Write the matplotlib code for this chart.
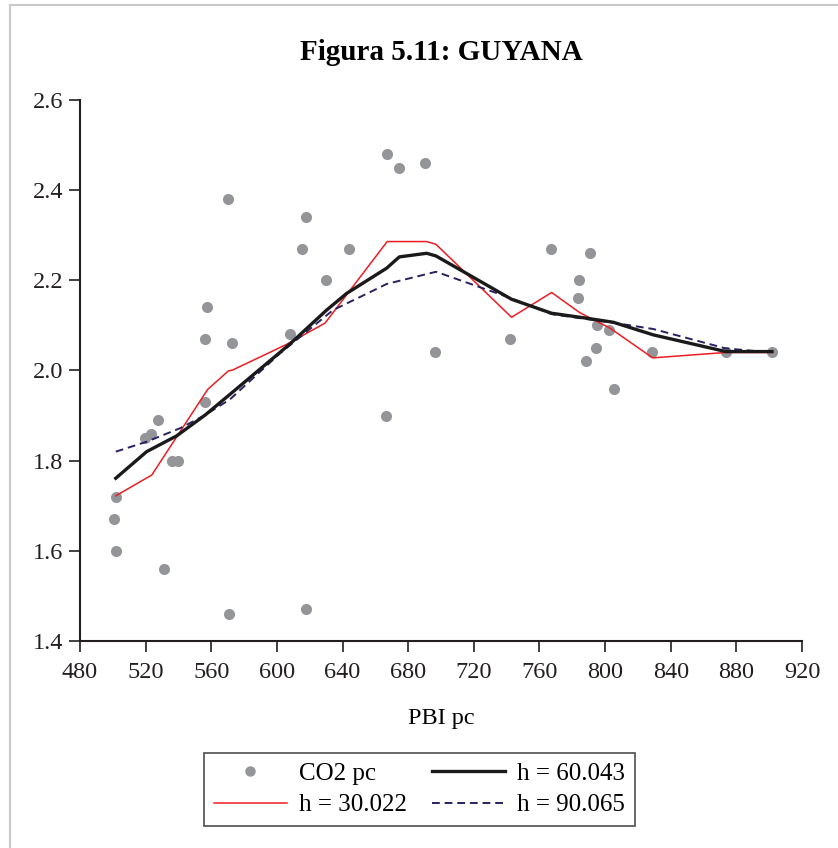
import numpy as np
import matplotlib.pyplot as plt
from matplotlib.lines import Line2D

plt.rcParams['font.family'] = ['Liberation Serif', 'DejaVu Serif']

# puntos observados
pbi = [500.7, 502.0, 502.0, 519.6, 523.0, 527.5, 531.0, 536.0, 540.0, 556.0,
       557.4, 556.0, 570.0, 571.0, 572.6, 608.0, 615.0, 618.0, 617.7, 629.7,
       643.9, 666.3, 667.3, 674.2, 690.4, 696.3, 742.2, 766.8, 783.5, 784.3,
       788.3, 790.6, 794.6, 795.0, 802.4, 805.2, 828.8, 873.5, 901.7]
co2 = [1.67, 1.72, 1.60, 1.85, 1.86, 1.89, 1.56, 1.80, 1.80, 2.07,
       2.14, 1.93, 2.38, 1.46, 2.06, 2.08, 2.27, 2.34, 1.47, 2.20,
       2.27, 1.90, 2.48, 2.45, 2.46, 2.04, 2.07, 2.27, 2.16, 2.20,
       2.02, 2.26, 2.05, 2.10, 2.09, 1.96, 2.04, 2.04, 2.04]

# h = 30.022
x_h30 = [501.8, 523.7, 557.8, 570.4, 573.0, 605.4, 629.3, 667.2, 691.3, 696.9,
         743.0, 767.4, 784.7, 803.0, 829.0, 873.5, 901.7]
y_h30 = [1.722, 1.768, 1.958, 1.999, 2.001, 2.057, 2.105, 2.286, 2.286, 2.280,
         2.118, 2.173, 2.128, 2.094, 2.028, 2.040, 2.040]

# h = 60.043
x_h60 = [501.8, 520.6, 538.9, 556.2, 573.0, 608.0, 630.3, 642.5, 666.9, 674.6,
         691.3, 697.0, 743.0, 767.4, 788.7, 805.0, 829.4, 873.5, 901.7]
y_h60 = [1.761, 1.820, 1.855, 1.901, 1.952, 2.059, 2.134, 2.171, 2.227, 2.252,
         2.260, 2.254, 2.158, 2.127, 2.116, 2.107, 2.079, 2.042, 2.042]

# h = 90.065
x_h90 = [501.8, 520.6, 541.0, 556.2, 571.4, 601.9, 634.2, 660.8, 666.9, 697.0,
         743.0, 767.4, 788.7, 805.0, 829.4, 873.5, 901.7]
y_h90 = [1.820, 1.842, 1.872, 1.901, 1.936, 2.038, 2.134, 2.181, 2.192, 2.219,
         2.160, 2.125, 2.114, 2.106, 2.092, 2.049, 2.040]

fig = plt.figure(figsize=(8.38, 8.48), dpi=100)
ax = fig.add_axes([80/838, 1-641/848, 722/838, 541/848])

ax.scatter(pbi, co2, s=64, color='#939598', zorder=2, linewidths=0)
ax.plot(x_h30, y_h30, color='#ed1c24', lw=1.1, zorder=3)
ax.plot(x_h90, y_h90, color='#262262', lw=1.4, ls=(0, (4, 2.5)), zorder=3)
ax.plot(x_h60, y_h60, color='#1a1a1a', lw=2.4, zorder=4)

ax.set_xlim(480, 920)
ax.set_ylim(1.4, 2.6)
ax.set_xticks(np.arange(480, 921, 40))
ax.set_yticks([1.4, 1.6, 1.8, 2.0, 2.2, 2.4, 2.6])
ax.set_yticklabels(['1.4', '1.6', '1.8', '2.0', '2.2', '2.4', '2.6'])
for s in ['top', 'right']:
    ax.spines[s].set_visible(False)
for s in ['left', 'bottom']:
    ax.spines[s].set_linewidth(1.5)
    ax.spines[s].set_color('#231f20')
ax.tick_params(direction='out', length=8, width=1.2, labelsize=17.5,
               colors='#231f20', pad=4)
ax.tick_params(axis='x', pad=7)

ax.set_title('Figura 5.11: GUYANA', fontsize=21, fontweight='bold', pad=29)
ax.set_xlabel('PBI pc', fontsize=17.5, labelpad=18)

handles = [
    Line2D([], [], ls='none', marker='o', ms=6.5, color='#939598', label='CO2 pc'),
    Line2D([], [], color='#ed1c24', lw=1.1, label='h = 30.022'),
    Line2D([], [], color='#1a1a1a', lw=2.4, label='h = 60.043'),
    Line2D([], [], color='#262262', lw=1.4, ls=(0, (4, 2.5)), label='h = 90.065'),
]
leg = fig.legend(handles=handles, ncol=2, loc='center',
                 bbox_to_anchor=(419.5/838, 1-789.5/848), fontsize=18,
                 frameon=True, fancybox=False, edgecolor='#231f20',
                 handlelength=2.9, columnspacing=1.0, handletextpad=0.5,
                 labelspacing=0.35, borderpad=0.4, borderaxespad=0)
leg.get_frame().set_linewidth(1.2)

# marco gris de la figura
fig.add_artist(Line2D([9.5/838, 9.5/838], [0, 1-5/848], color='#c8c8c8', lw=1.5,
                      transform=fig.transFigure))
fig.add_artist(Line2D([9.5/838, 1], [1-5/848, 1-5/848], color='#c8c8c8', lw=1.5,
                      transform=fig.transFigure))

fig.savefig('out.png', dpi=100)
